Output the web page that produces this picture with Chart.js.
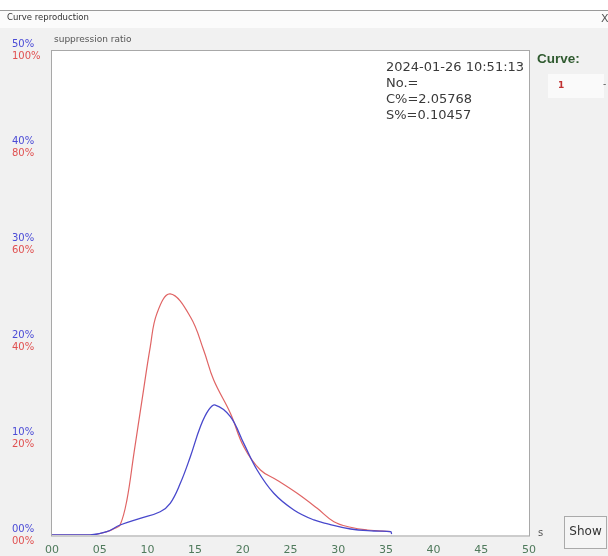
<!DOCTYPE html>
<html><head><meta charset="utf-8">
<script src="https://cdn.jsdelivr.net/npm/chart.js@4"></script>
<style>html,body{margin:0;padding:0;background:#f1f1f1;overflow:hidden} canvas{display:block}</style>
</head><body>
<canvas id="c" width="608" height="556"></canvas>
<script>
// ---- data (seconds, percent) ----
const blueTimes  = [0, 4.0, 5.75, 7.14, 9.24, 11.34, 12.39, 13.45, 14.5, 15.55, 16.42, 17.12, 18.7, 20.1, 21.5, 23.25, 25.35, 27.45, 29.0, 31.3, 33.75, 35.5, 35.6];
const blueValues = [0, 0, 0.34, 1.03, 1.72, 2.40, 3.27, 5.33, 8.07, 11.16, 12.89, 13.40, 12.2, 9.45, 6.70, 4.30, 2.58, 1.55, 1.13, 0.62, 0.41, 0.34, 0.1];
const redTimes   = [0, 4.0, 5.75, 6.6, 7.14, 7.85, 8.6, 9.45, 10.3, 11.0, 12.39, 14.5, 15.9, 16.94, 18.7, 20.1, 21.85, 23.6, 25.7, 27.8, 29.55, 31.3, 33.06, 35.5];
const redValues  = [0, 0, 0.68, 1.4, 2.06, 7.2, 17.0, 28.0, 38.8, 45.7, 49.7, 45.0, 38.1, 32.0, 25.1, 18.2, 13.4, 11.3, 8.6, 5.5, 2.74, 1.59, 1.03, 0.68];
const xTickLabels    = ['00','05','10','15','20','25','30','35','40','45','50'];
const blueTickLabels = ['00%','10%','20%','30%','40%','50%'];
const redTickLabels  = ['00%','20%','40%','60%','80%','100%'];
const infoLines = ['2024-01-26 10:51:13','No.=','C%=2.05768','S%=0.10457'];
const windowTitle = 'Curve reproduction';
const axisTitle = 'suppression ratio';

const bluePts = blueTimes.map((t,i)=>({x:t,y:blueValues[i]}));
const redPts  = redTimes.map((t,i)=>({x:t,y:redValues[i]}));

const decor = {
  id:'decor',
  beforeDraw(chart){
    const {ctx, chartArea:a} = chart;
    ctx.save();
    ctx.fillStyle='#f1f1f1'; ctx.fillRect(0,0,608,556);
    ctx.fillStyle='#fbfbfb'; ctx.fillRect(0,0,608,28);
    ctx.fillStyle='#ffffff'; ctx.fillRect(0,0,608,10);
    ctx.strokeStyle='#9a9a9a'; ctx.lineWidth=1;
    ctx.beginPath(); ctx.moveTo(0,10.5); ctx.lineTo(608,10.5); ctx.stroke();
    ctx.fillStyle='#333'; ctx.font='8.5px "DejaVu Sans"'; ctx.textBaseline='middle'; ctx.textAlign='left';
    ctx.fillText(windowTitle, 7, 18);
    ctx.font='11px "DejaVu Sans"'; ctx.fillStyle='#555'; ctx.fillText('X', 601, 19);
    ctx.font='9px "DejaVu Sans"'; ctx.fillStyle='#555'; ctx.fillText(axisTitle, 54, 40);
    ctx.fillStyle='#ffffff'; ctx.fillRect(a.left,a.top,a.right-a.left,a.bottom-a.top);
    ctx.fillStyle='#fafafa'; ctx.fillRect(548,74,56,24);
    ctx.restore();
  },
  afterDraw(chart){
    const {ctx, chartArea:a} = chart;
    ctx.save();
    ctx.strokeStyle='#a8a8a8'; ctx.lineWidth=1;
    ctx.strokeRect(Math.round(a.left)-0.5, Math.round(a.top)+0.5, Math.round(a.right-a.left)+1, Math.round(a.bottom-a.top)+0.5);
    ctx.fillStyle='#3a3a3a'; ctx.font='13px "DejaVu Sans"'; ctx.textAlign='left'; ctx.textBaseline='middle';
    infoLines.forEach((s,i)=>ctx.fillText(s, 386, 68+i*16));
    ctx.fillStyle='#2f5a2f'; ctx.font='bold 13.5px "Liberation Sans"';
    ctx.fillText('Curve:', 537, 59);
    ctx.fillStyle='#c03030'; ctx.font='bold 9px "DejaVu Sans"'; ctx.fillText('1', 558, 86);
    ctx.fillStyle='#444'; ctx.font='9px "DejaVu Sans"'; ctx.fillText('-', 603, 85);
    ctx.fillStyle='#555'; ctx.font='10px "DejaVu Sans"'; ctx.fillText('s', 538, 533);
    ctx.fillStyle='#f5f5f5'; ctx.fillRect(564.5,516.5,42,32);
    ctx.strokeStyle='#aaaaaa'; ctx.strokeRect(564.5,516.5,42,32);
    ctx.fillStyle='#333'; ctx.font='12px "DejaVu Sans"'; ctx.textAlign='center';
    ctx.fillText('Show', 585.5, 532);
    ctx.restore();
  }
};

new Chart(document.getElementById('c'), {
  type:'line',
  data:{datasets:[
    {data:bluePts, yAxisID:'y', borderColor:'#4848cc', borderWidth:1.3, pointRadius:0, tension:0.4, fill:false},
    {data:redPts, yAxisID:'y2', borderColor:'#e06464', borderWidth:1.2, pointRadius:0, tension:0.4, fill:false}
  ]},
  options:{
    responsive:false, animation:false, devicePixelRatio:1,
    layout:{padding:{left:12, top:50, right:79, bottom:0}},
    plugins:{legend:{display:false}, tooltip:{enabled:false}},
    scales:{
      x:{type:'linear', min:0, max:50,
         ticks:{stepSize:5, autoSkip:false, maxRotation:0, callback:(v,i)=>xTickLabels[i], color:'#4f7a5c', font:{size:11, family:'DejaVu Sans'}, padding:9},
         grid:{display:false, drawTicks:false}, border:{display:false},
         afterFit:s=>{s.height=21;}},
      y:{type:'linear', position:'left', weight:0, min:0, max:50,
         ticks:{stepSize:10, callback:(v,i)=>blueTickLabels[i], color:'#4b4bd6', crossAlign:'far', labelOffset:-6, padding:0, font:{size:10, family:'DejaVu Sans'}},
         grid:{display:false, drawTicks:false}, border:{display:false},
         afterFit:s=>{s.width=40;}},
      y2:{type:'linear', position:'left', weight:1, min:0, max:100,
         ticks:{stepSize:20, mirror:true, callback:(v,i)=>redTickLabels[i], color:'#e05050', labelOffset:6, padding:0, font:{size:10, family:'DejaVu Sans'}},
         grid:{display:false, drawTicks:false}, border:{display:false},
         afterFit:s=>{s.width=0;}}
    }
  },
  plugins:[decor]
});
</script>
</body></html>
